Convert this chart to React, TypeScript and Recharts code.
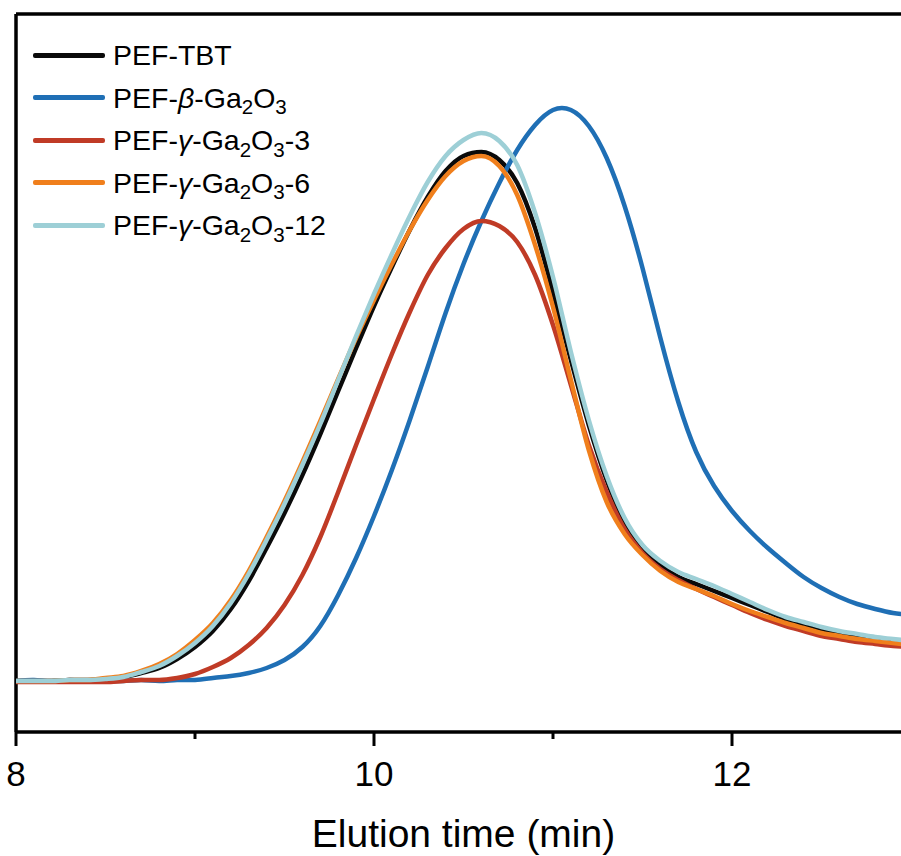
import { LineChart, Line, XAxis, YAxis, ReferenceLine, Legend } from 'recharts'

// elution time (min)
const time = [
  8.0, 8.1, 8.2, 8.3, 8.4, 8.5, 8.6, 8.7, 8.8, 8.9,
  9.0, 9.1, 9.2, 9.3, 9.4, 9.5, 9.6, 9.7, 9.8, 9.9,
  10.0, 10.1, 10.2, 10.3, 10.4, 10.5, 10.6, 10.7, 10.8, 10.9,
  11.0, 11.1, 11.2, 11.3, 11.4, 11.5, 11.6, 11.7, 11.8, 11.9,
  12.0, 12.1, 12.2, 12.3, 12.4, 12.5, 12.6, 12.7, 12.8, 12.9,
  13.0,
]

// detector signal, arbitrary units
const pefTbt = [
  51, 51, 51, 52, 52, 53, 55, 59, 64, 73,
  85, 101, 123, 151, 184, 219, 257, 298, 341, 384,
  426, 465, 502, 535, 561, 576, 580, 572, 549, 504,
  440, 372, 307, 252, 210, 184, 167, 155, 148, 141,
  134, 127, 120, 113, 108, 103, 99, 95, 92, 90,
  88,
]
const pefBeta = [
  51, 52, 51, 52, 51, 51, 51, 52, 51, 52,
  52, 54, 56, 59, 64, 72, 85, 106, 137, 174,
  216, 262, 312, 365, 419, 468, 511, 549, 582, 607,
  622, 622, 606, 574, 526, 464, 394, 330, 280, 246,
  221, 201, 184, 169, 155, 144, 135, 128, 123, 119,
  117,
]
const pefGamma3 = [
  50, 50, 50, 50, 50, 50, 51, 52, 52, 54,
  58, 65, 74, 87, 104, 127, 157, 195, 240, 287,
  333, 378, 420, 457, 484, 503, 511, 506, 490, 457,
  407, 347, 287, 240, 203, 179, 163, 152, 143, 135,
  127, 119, 112, 106, 101, 96, 93, 90, 88, 86,
  85,
]
const pefGamma6 = [
  51, 51, 51, 52, 52, 54, 56, 61, 68, 78,
  92, 109, 132, 161, 195, 231, 270, 311, 353, 394,
  432, 468, 502, 532, 556, 571, 576, 566, 537, 487,
  425, 352, 282, 230, 198, 177, 161, 150, 143, 136,
  128, 121, 115, 109, 104, 99, 96, 93, 91, 89,
  87,
]
const pefGamma12 = [
  51, 51, 51, 52, 52, 53, 55, 60, 66, 76,
  89, 106, 129, 158, 192, 228, 267, 308, 352, 396,
  438, 478, 516, 550, 576, 592, 599, 591, 567, 519,
  455, 380, 312, 256, 214, 187, 171, 160, 153, 146,
  138, 130, 122, 115, 110, 105, 101, 98, 95, 93,
  91,
]

const xTicks = [8, 9, 10, 11, 12]

const data = time.map((t, i) => ({
  t,
  tbt: pefTbt[i],
  beta: pefBeta[i],
  g3: pefGamma3[i],
  g6: pefGamma6[i],
  g12: pefGamma12[i],
}))

const FONT = '"Liberation Sans", Arial, Helvetica, sans-serif'

const Sub = ({ children }: { children: any }) => (
  <span style={{ fontSize: '0.72em', position: 'relative', top: '0.32em' }}>{children}</span>
)

const series = [
  { key: 'tbt', color: '#0a0a0a', curve: 'monotone', label: <>PEF-TBT</> },
  { key: 'beta', color: '#1f6fb5', curve: 'natural', label: <>PEF-<i>β</i>-Ga<Sub>2</Sub>O<Sub>3</Sub></> },
  { key: 'g3', color: '#c03b26', curve: 'monotone', label: <>PEF-<i>γ</i>-Ga<Sub>2</Sub>O<Sub>3</Sub>-3</> },
  { key: 'g6', color: '#f07f1c', curve: 'monotone', label: <>PEF-<i>γ</i>-Ga<Sub>2</Sub>O<Sub>3</Sub>-6</> },
  { key: 'g12', color: '#9dcfd6', curve: 'monotone', label: <>PEF-<i>γ</i>-Ga<Sub>2</Sub>O<Sub>3</Sub>-12</> },
]

const TimeTick = (props: any) => {
  const { x, y, payload } = props
  const major = payload.value % 2 === 0
  return (
    <g>
      <line x1={x} x2={x} y1={y} y2={y + (major ? 14 : 7)} stroke="#000" strokeWidth={3} />
      {major && (
        <text x={x} y={y + 54} textAnchor="middle" fontSize={35} fontFamily={FONT} fill="#000">
          {payload.value}
        </text>
      )}
    </g>
  )
}

const AxisTitle = (props: any) => {
  const { viewBox } = props
  return (
    <text x={viewBox.x + viewBox.width / 2} y={viewBox.y + 115} textAnchor="middle" fontSize={39} fontFamily={FONT} fill="#000">
      Elution time (min)
    </text>
  )
}

const renderLegend = () => (
  <div style={{ fontFamily: FONT, fontSize: 28.5, color: '#000' }}>
    {series.map(s => (
      <div key={s.key} style={{ display: 'flex', alignItems: 'center', height: 42.5, whiteSpace: 'nowrap' }}>
        <div style={{ width: 72, height: 5, borderRadius: 2, background: s.color, marginRight: 8 }} />
        <span style={{ lineHeight: 1 }}>{s.label}</span>
      </div>
    ))}
  </div>
)

export default function App() {
  return (
    <div style={{ position: 'absolute', left: 0, top: 0, width: 901, height: 856, overflow: 'hidden', background: '#fff' }}>
      <LineChart width={960} height={856} data={data} margin={{ top: 14, right: 49, bottom: 0, left: 16 }}>
        <XAxis
          dataKey="t"
          type="number"
          domain={[8, 13]}
          ticks={xTicks}
          allowDataOverflow
          height={124}
          tickSize={0}
          tickMargin={0}
          tickLine={false}
          tick={<TimeTick />}
          axisLine={{ stroke: '#000', strokeWidth: 3.5 }}
          label={<AxisTitle />}
        />
        <YAxis type="number" domain={[0, 718]} hide />
        <ReferenceLine y={718} stroke="#000" strokeWidth={3.5} />
        <ReferenceLine x={8} stroke="#000" strokeWidth={3.5} />
        <Legend
          layout="horizontal"
          verticalAlign="middle"
          content={renderLegend}
          wrapperStyle={{ top: 34, left: 33, width: 420, height: 'auto' }}
        />
        {series.map(s => (
          <Line
            key={s.key}
            dataKey={s.key}
            type={s.curve as any}
            stroke={s.color}
            strokeWidth={4.5}
            dot={false}
            activeDot={false}
            isAnimationActive={false}
          />
        ))}
      </LineChart>
    </div>
  )
}
